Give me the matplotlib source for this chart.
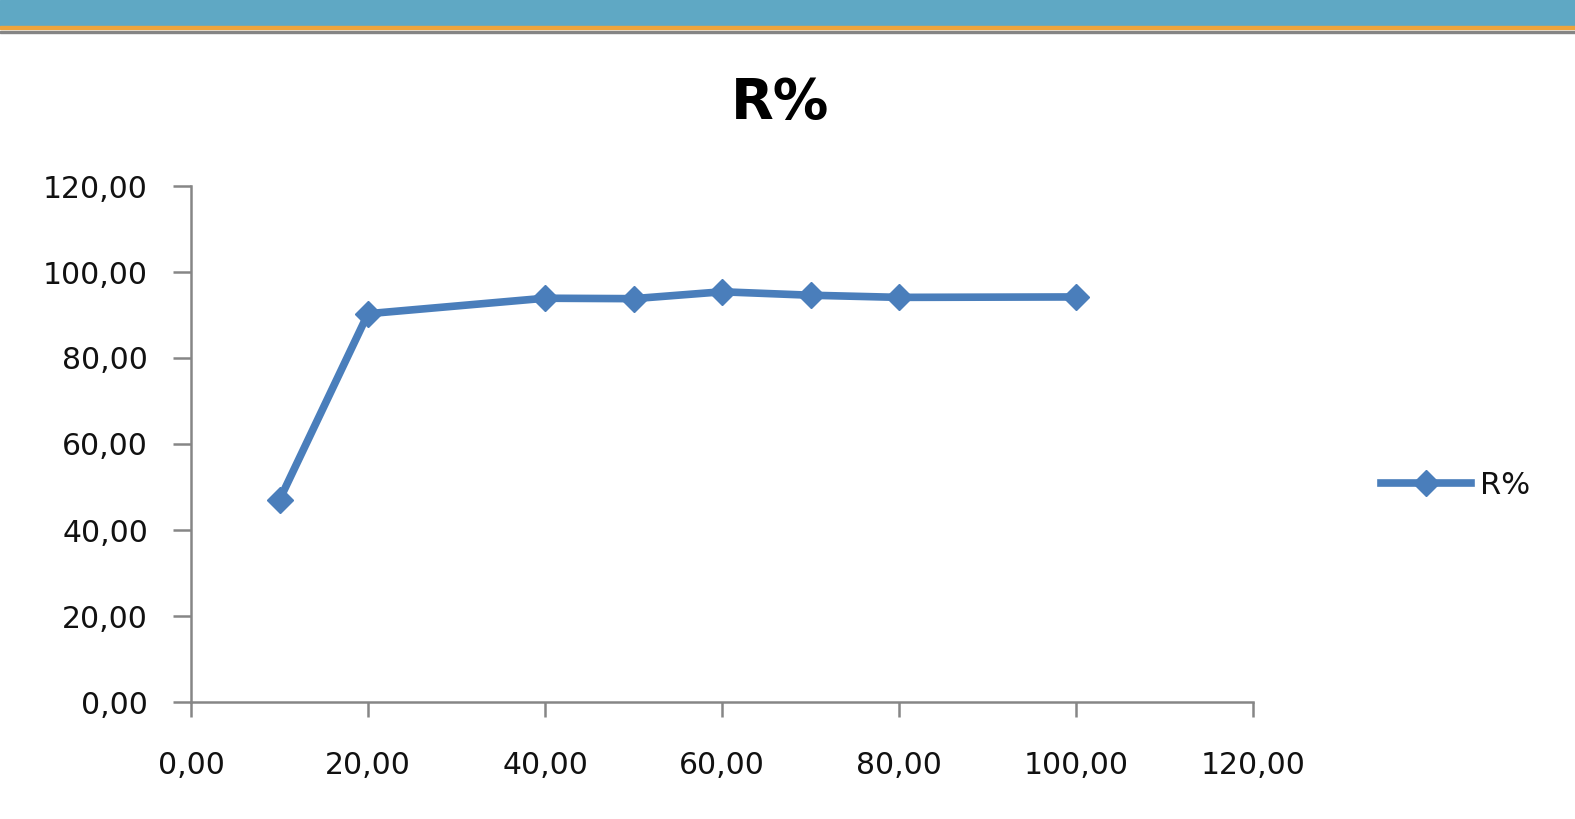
import matplotlib
matplotlib.use("Agg")
import matplotlib.pyplot as plt
from matplotlib.patches import Rectangle
from matplotlib.ticker import FuncFormatter, MultipleLocator

# Data
x_values = [10, 20, 40, 50, 60, 70, 80, 100]
r_values = [47.0, 90.3, 93.9, 93.8, 95.4, 94.6, 94.1, 94.2]
series_name = "R%"
title_text = "R%"

W, H, DPI = 1575, 819, 100
fig = plt.figure(figsize=(W / DPI, H / DPI), dpi=DPI)
fig.patch.set_facecolor("white")

def fy(py):
    return 1 - py / H

# decorative top band
fig.patches.append(Rectangle((0, fy(26)), 1, 26 / H, transform=fig.transFigure,
                             color="#5fa8c4", zorder=0))
fig.patches.append(Rectangle((0, fy(29)), 1, 3 / H, transform=fig.transFigure,
                             color="#eda43c", zorder=0))
fig.patches.append(Rectangle((0, fy(33)), 1, 2.2 / H, transform=fig.transFigure,
                             color="#858585", zorder=0))

ax = fig.add_axes([191 / W, fy(702), (1253 - 191) / W, (702 - 186) / H])
line_color = "#4a7ebb"
ax.plot(x_values, r_values, color=line_color, linewidth=5.5, marker="D",
        markersize=13.5, markerfacecolor=line_color, markeredgecolor=line_color,
        label=series_name, solid_joinstyle="round")

ax.set_xlim(0, 120)
ax.set_ylim(0, 120)
ax.xaxis.set_major_locator(MultipleLocator(20))
ax.yaxis.set_major_locator(MultipleLocator(20))
fmt = FuncFormatter(lambda v, p: f"{v:.2f}".replace(".", ","))
ax.xaxis.set_major_formatter(fmt)
ax.yaxis.set_major_formatter(fmt)

for s in ["top", "right"]:
    ax.spines[s].set_visible(False)
for s in ["left", "bottom"]:
    ax.spines[s].set_color("#868686")
    ax.spines[s].set_linewidth(1.8)
ax.spines["left"].set_zorder(0)

ax.tick_params(axis="y", direction="out", length=13, width=1.8, color="#868686",
               labelsize=21.5, pad=18, labelcolor="#111111")
ax.tick_params(axis="x", direction="out", length=11, width=1.8, color="#868686",
               labelsize=21.5, pad=24, labelcolor="#111111")
ax.set_facecolor("white")

fig.text(780 / W, fy(103), title_text, ha="center", va="center",
         fontsize=40, fontweight="bold", color="black")

fig.legend(loc="center left", bbox_to_anchor=(1381 / W, fy(485)),
           frameon=False, fontsize=22, handlelength=2.95, handletextpad=0.3,
           borderpad=0, borderaxespad=0, labelcolor="#111111")

fig.savefig("out.png", dpi=DPI, facecolor="white")
